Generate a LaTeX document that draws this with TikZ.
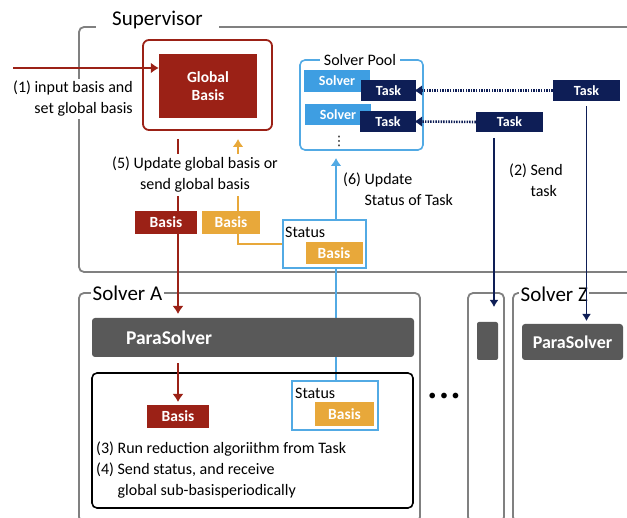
\documentclass[tikz,border=0pt]{standalone}
\usepackage{fontspec}
\setmainfont{Carlito}
\newfontfamily\symfont{DejaVu Sans}
\usetikzlibrary{arrows.meta}
\usetikzlibrary{positioning}

\definecolor{basisred}{RGB}{155,33,22}
\definecolor{basisorange}{RGB}{232,168,58}
\definecolor{solverblue}{RGB}{62,158,226}
\definecolor{poolblue}{RGB}{82,170,228}
\definecolor{tasknavy}{RGB}{14,30,86}
\definecolor{framegray}{RGB}{128,128,128}
\definecolor{paragray}{RGB}{89,89,89}

\begin{document}
\begin{tikzpicture}[x=1pt, y=-1pt, font=\fontsize{16}{21}\selectfont]
    \tikzstyle{frame}    = [draw=framegray, line width=1.8pt, rounded corners=5pt]
    \tikzstyle{title}    = [fill=white, inner ysep=0pt, font=\fontsize{21}{24}\selectfont]
    \tikzstyle{tag}      = [rectangle, inner sep=0pt, text=white, font=\bfseries\fontsize{15.5}{18}\selectfont]
    \tikzstyle{redbasis} = [tag, fill=basisred, minimum width=62pt, minimum height=23pt]
    \tikzstyle{orbasis}  = [tag, fill=basisorange, minimum width=58pt, minimum height=23pt]
    \tikzstyle{solver}   = [tag, fill=solverblue, minimum width=66pt, minimum height=22pt, font=\bfseries\fontsize{14}{16}\selectfont]
    \tikzstyle{task}     = [tag, fill=tasknavy, minimum width=56pt, minimum height=21pt, font=\bfseries\fontsize{14}{16}\selectfont]
    \tikzstyle{statbox}  = [rectangle, draw=poolblue, fill=white, line width=1.6pt, inner sep=0pt]
    \tikzstyle{para}     = [rectangle, fill=paragray, rounded corners=3pt, inner sep=0pt, text=white]
    \tikzstyle{line}     = [draw, line width=1.8pt, -{Latex[length=8pt, width=11pt]}]
    \tikzstyle{redline}  = [line, basisred]
    \tikzstyle{orline}   = [line, basisorange]
    \tikzstyle{blueline} = [line, poolblue]
    \tikzstyle{navyline} = [line, tasknavy, -{Latex[length=7pt, width=9pt]}]
    \tikzstyle{dotline}  = [line, tasknavy, line width=2.6pt, dash pattern=on 1.4pt off 1.2pt, -{Latex[length=8pt, width=11pt]}]

    \useasboundingbox (0,0) rectangle (627,518);
    \clip (0,0) rectangle (627,518);

    % Frames
    \draw [frame] (79,27) rectangle (660,272);
    \draw [frame] (79,293) rectangle (420,522);
    \draw [frame] (468,293) rectangle (504,522);
    \draw [frame] (513,293) rectangle (660,522);
    \node [title, anchor=base west, inner xsep=16pt] (supt) at (96,26) {Supervisor};
    \node [title, anchor=west, inner xsep=1.5pt] (solat) at (91,293) {Solver A};
    \node [title, anchor=west, inner xsep=1.5pt] (solzt) at (519,294) {Solver Z};

    % Connectors (drawn first, boxes sit on top)
    \coordinate (in1) at (13,68);
    \coordinate (redtop) at (178,139);
    \coordinate (ortop) at (238,139);
    \coordinate (sendb) at (494,138);

    % Supervisor: global basis
    \node [rectangle, draw=basisred, line width=1.8pt, rounded corners=6pt, minimum width=129pt, minimum height=90pt] (gouter) at (207.5,85) {};
    \node [tag, fill=basisred, minimum width=98pt, minimum height=64pt, align=center] (gbasis) at (208,86) {Global\\Basis};

    % Solver pool
    \node [rectangle, draw=poolblue, line width=1.6pt, rounded corners=5pt, minimum width=123pt, minimum height=90pt] (pool) at (361.5,105) {};
    \node [fill=white, inner xsep=4pt, inner ysep=0pt] (poolt) at (360,60) {Solver Pool};
    \node [solver] (sv1) at (337,81) {Solver};
    \node [task, minimum width=55pt] (tk1) at (388.5,90.5) {Task};
    \node [solver, minimum height=21pt] (sv2) at (338,114.5) {Solver};
    \node [task] (tk2) at (388,121.5) {Task};
    \node [inner sep=0pt, font=\symfont\fontsize{13}{13}\selectfont] (more) at (339,141) {⋮};

    % Tasks waiting to be sent
    \node [task, minimum width=67pt] (taska) at (586.5,90.5) {Task};
    \node [task, minimum width=67pt, minimum height=20pt] (taskb) at (509.5,122) {Task};

    % Lines
    \path [redline] (in1) -- (in1 -| gbasis.west);
    \path [redline, shorten >=4pt] (redtop) -- (redtop |- 0,318);
    \path [orline] (324.5,244) -| (ortop);
    \path [blueline, shorten >=8pt] (336,381) -- (336,150);
    \path [dotline, shorten >=-2pt] (taska.west) -- (tk1.east);
    \path [dotline, shorten >=-2pt] (taskb.west) -- (tk2.east);
    \path [navyline, shorten >=15pt] (sendb) -- (sendb |- 0,322);
    \path [navyline, shorten <=5pt, shorten >=3pt] (taska.south) -- (taska.south |- 0,324);

    % Labels
    \node [fill=white, anchor=east, align=right, inner sep=2pt] (lbl1) at (135,99) {(1) input basis and\\set global basis};
    \node [fill=white, align=center, inner xsep=2pt, inner ysep=3pt] (lbl5) at (195,175) {(5) Update global basis or\\send global basis};
    \node [anchor=west, align=left, inner sep=0pt] (lbl6) at (343,190) {(6) Update\\\phantom{(6) }Status of Task};
    \node [anchor=west, align=left, inner sep=0pt] (lbl2) at (509,181) {(2) Send\\\phantom{(2) }task};

    \node [redbasis] (rb1) at (166,222.5) {Basis};
    \node [orbasis] (ob1) at (231,222.5) {Basis};
    \node [statbox, minimum width=83pt, minimum height=48pt] (st1) at (324.5,244) {};
    \node [anchor=west, inner sep=0pt] (st1l) at (285,232) {Status};
    \node [orbasis, minimum width=57pt, minimum height=22pt] (ob2) at (334,253) {Basis};

    % Solver A
    \node [para, minimum width=322pt, minimum height=39pt, text width=254pt, inner xsep=34pt, align=left, font=\bfseries\fontsize{19.5}{22}\selectfont] (psa) at (253,337.5) {ParaSolver};
    \node [rectangle, draw=black, line width=1.6pt, rounded corners=5pt, minimum width=321pt, minimum height=135pt] (runbox) at (252.5,440.5) {};
    \path [redline, shorten <=6pt, shorten >=3pt] (psa.south -| redtop) -- (redtop |- 0,405);
    \node [redbasis] (rb2) at (178,416.5) {Basis};
    \node [statbox, minimum width=86pt, minimum height=49pt] (st2) at (335,405.5) {};
    \node [anchor=west, inner sep=0pt] (st2l) at (295,393) {Status};
    \node [orbasis, minimum width=59pt, minimum height=24pt] (ob3) at (344.5,414) {Basis};
    \node [anchor=west, align=left, inner sep=0pt] (lbl34) at (96,470) {(3) Run reduction algoriithm from Task\\(4) Send status, and receive\\\phantom{(4) }global sub-basisperiodically};

    \node (dots) at (444,397) {\textbullet\ \textbullet\ \textbullet};

    % Other solvers
    \node [para, rounded corners=2pt, minimum width=21pt, minimum height=38pt] (psmall) at (487.5,341) {};
    \node [para, minimum width=101pt, minimum height=36pt, font=\bfseries\fontsize{18}{20}\selectfont] (psz) at (572.5,342) {ParaSolver};
\end{tikzpicture}
\end{document}
